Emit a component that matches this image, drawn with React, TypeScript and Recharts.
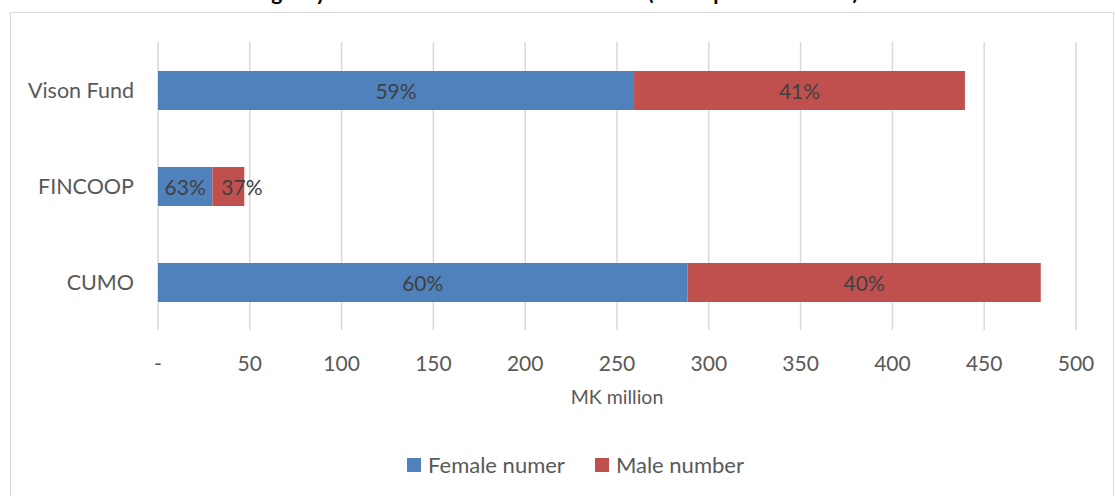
import React from 'react';
import { BarChart, Bar, XAxis, YAxis, CartesianGrid, LabelList, Legend } from 'recharts';

const categories = ['Vison Fund', 'FINCOOP', 'CUMO'];
const femaleValues = [259.3, 29.6, 288.4];
const maleValues = [180.2, 17.4, 192.4];
const femaleShares = ['59%', '63%', '60%'];
const maleShares = ['41%', '37%', '40%'];
const xTicks = [0, 50, 100, 150, 200, 250, 300, 350, 400, 450, 500];
const seriesNames = ['Female numer', 'Male number'];
const seriesColors = ['#4F81BD', '#C0504D'];
const chartTitle = 'Agency Loans to Female and Male Clients (in sample institutions)';
const axisTitle = 'MK million';

const data = categories.map((name, i) => ({
  name,
  female: femaleValues[i],
  male: maleValues[i],
  femaleLabel: femaleShares[i],
  maleLabel: maleShares[i],
}));

const FONT = 'Lato, "Noto Sans", sans-serif';

const SegmentLabel = (props: any) => {
  const { x, y, width, height, value } = props;
  const estW = String(value).length * 12.5;
  const fits = width >= estW + 4;
  return (
    <text
      x={fits ? x + width / 2 : x + 9}
      y={y + height / 2}
      textAnchor={fits ? 'middle' : 'start'}
      dominantBaseline="central"
      fill="#404040"
      fontSize={21}
      fontFamily={FONT}
    >
      {value}
    </text>
  );
};

const LegendContent = (props: any) => {
  const items = props.payload || [];
  return (
    <div style={{ display: 'flex', justifyContent: 'center', paddingLeft: 36, fontFamily: FONT, fontSize: 22, color: '#595959' }}>
      {items.map((it: any, i: number) => (
        <div key={i} style={{ display: 'flex', alignItems: 'center', marginRight: i === 0 ? 30 : 0 }}>
          <span style={{ display: 'inline-block', width: 14, height: 14, background: it.color, marginRight: 7 }} />
          <span>{it.value}</span>
        </div>
      ))}
    </div>
  );
};

export default function App() {
  return (
    <div style={{ position: 'absolute', left: 0, top: 0, width: 1115, height: 496, overflow: 'hidden', background: '#fff' }}>
      <div
        style={{
          position: 'absolute',
          left: 0,
          width: 1115,
          top: -19,
          lineHeight: '22px',
          fontSize: 21,
          fontWeight: 700,
          fontFamily: FONT,
          textAlign: 'center',
          color: '#000',
          whiteSpace: 'nowrap',
        }}
      >
        {chartTitle}
      </div>
      <div
        style={{
          position: 'absolute',
          left: 10,
          top: 12,
          width: 1102,
          height: 500,
          border: '1px solid #d9d9d9',
        }}
      />
      <div style={{ position: 'absolute', left: 0, top: 0 }}>
        <BarChart
          width={1115}
          height={496}
          data={data}
          layout="vertical"
          margin={{ top: 42, right: 39, bottom: 106, left: 0 }}
          barSize={39}
        >
          <CartesianGrid horizontal={false} stroke="#d9d9d9" strokeWidth={1.5} />
          <XAxis
            type="number"
            domain={[0, 500]}
            ticks={xTicks}
            axisLine={false}
            tickLine={false}
            tickMargin={20}
            height={60}
            interval={0}
            tickFormatter={(v: number) => (v === 0 ? '-' : String(v))}
            tick={{ fill: '#595959', fontSize: 21, fontFamily: FONT }}
          />
          <YAxis
            type="category"
            dataKey="name"
            width={158}
            axisLine={false}
            tickLine={false}
            tickMargin={18}
            tick={{ fill: '#595959', fontSize: 21.5, fontFamily: FONT }}
          />
          <Legend
            verticalAlign="middle"
            align="center"
            layout="horizontal"
            content={<LegendContent />}
            wrapperStyle={{ position: 'absolute', top: 451, left: 0, width: 1115, bottom: 'auto' }}
          />
          <Bar dataKey="female" name={seriesNames[0]} stackId="a" fill={seriesColors[0]} isAnimationActive={false}>
            <LabelList dataKey="femaleLabel" content={<SegmentLabel />} />
          </Bar>
          <Bar dataKey="male" name={seriesNames[1]} stackId="a" fill={seriesColors[1]} isAnimationActive={false}>
            <LabelList dataKey="maleLabel" content={<SegmentLabel />} />
          </Bar>
        </BarChart>
      </div>
      <div
        style={{
          position: 'absolute',
          left: 158,
          width: 918,
          top: 385,
          textAlign: 'center',
          fontFamily: FONT,
          fontSize: 19.5,
          color: '#595959',
          lineHeight: '24px',
        }}
      >
        {axisTitle}
      </div>
    </div>
  );
}
